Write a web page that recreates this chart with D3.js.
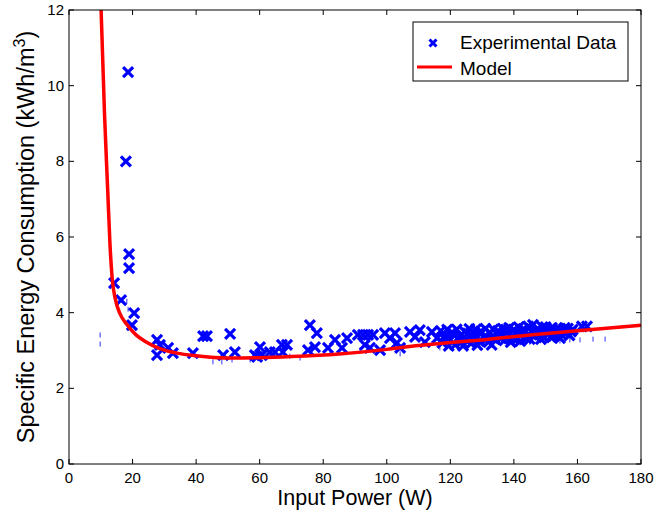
<!doctype html>
<html lang="en">
<head>
    <meta charset="UTF-8">
    <title>Specific Energy Consumption vs Input Power</title>
    <script src="https://d3js.org/d3.v7.min.js"></script>
    <style>
        body { margin: 0; background: #fff; }
        svg { display: block; font-family: "Liberation Sans", Arial, Helvetica, sans-serif; }
    </style>
</head>
<body>
<svg width="655" height="517"></svg>
<script>
    const expData = [
        [18.6, 10.36], [17.9, 8.0], [18.9, 5.55], [18.9, 5.18], [14.2, 4.78], [16.4, 4.33],
        [20.5, 3.99], [19.8, 3.67], [27.7, 3.28], [27.7, 2.88], [28.6, 3.15], [31.2, 3.07],
        [32.7, 2.93], [39.0, 2.93], [42.2, 3.38], [43.4, 3.38], [48.5, 2.88], [50.7, 3.44],
        [52.2, 2.96], [58.5, 2.88], [60.1, 3.09], [60.7, 2.88], [59.2, 2.83], [63.2, 2.96],
        [64.8, 2.96], [67.0, 3.15], [68.6, 3.15], [67.3, 2.96], [75.8, 3.67], [78.0, 3.46],
        [75.2, 3.01], [77.4, 3.09], [83.7, 3.28], [81.5, 3.07], [87.5, 3.33], [85.9, 3.07],
        [90.9, 3.41], [92.5, 3.41], [94.1, 3.41], [95.7, 3.41], [93.1, 3.15], [94.7, 3.07],
        [97.9, 3.01], [99.4, 3.46], [101.0, 3.33], [102.6, 3.46], [103.2, 3.20], [104.2, 3.07],
        [107.3, 3.49], [108.9, 3.36], [110.4, 3.54], [112.0, 3.22], [114.2, 3.49], [115.8, 3.33],
        [117, 3.52], [117.5, 3.20], [118.5, 3.40], [119, 3.55], [120, 3.28], [120.5, 3.48],
        [121.5, 3.15], [122, 3.56], [123, 3.38], [123.5, 3.22], [124.5, 3.50], [125, 3.30],
        [126, 3.57], [126.5, 3.18], [127.5, 3.44], [128, 3.56], [129, 3.25], [129.5, 3.50],
        [130.5, 3.35], [131, 3.58], [132, 3.22], [132.5, 3.47], [133.5, 3.56], [134, 3.30],
        [135, 3.52], [135.5, 3.40], [136.5, 3.58], [137, 3.27], [138, 3.48], [138.5, 3.60],
        [139.5, 3.35], [140, 3.55], [141, 3.30], [141.5, 3.62], [142.5, 3.45], [143, 3.57],
        [144, 3.33], [144.5, 3.64], [145.5, 3.50], [146, 3.68], [146.5, 3.38], [147.5, 3.58],
        [148, 3.42], [149, 3.62], [149.5, 3.35], [150.5, 3.55], [151, 3.45], [152, 3.60],
        [152.5, 3.38], [153.5, 3.52], [154, 3.58], [155, 3.42], [155.5, 3.55], [156.5, 3.48],
        [157, 3.58], [158, 3.50], [161.4, 3.64], [163.0, 3.64],
        [118, 3.33], [119.5, 3.12], [121, 3.42], [122.5, 3.30], [124, 3.12], [125.5, 3.45],
        [127, 3.30], [128.5, 3.14], [130, 3.48], [131.5, 3.30], [133, 3.15], [134.5, 3.45],
        [136, 3.32], [137.5, 3.55], [139, 3.22], [140.5, 3.45], [142, 3.25], [143.5, 3.50],
        [145, 3.30], [147, 3.50], [148.5, 3.30], [150, 3.62], [151.5, 3.36], [153, 3.45],
        [154.5, 3.33], [156, 3.60], [157.5, 3.40], [158.5, 3.55]
    ];

    // faint low-level readings drawn as small dashes
    const dashData = [
        [9.8, 3.41], [9.8, 3.17], [18.2, 4.30], [18.6, 4.09], [45.3, 2.70], [48.1, 2.70],
        [51.3, 2.75], [57.0, 2.75], [61.7, 2.80], [69.5, 2.85], [72.7, 2.80], [82.1, 2.96],
        [91.6, 3.01], [104.2, 2.91], [116.7, 3.07], [129.3, 3.09], [141.9, 3.20], [145.0, 3.22],
        [149.8, 3.22], [154.5, 3.25], [157.6, 3.28], [160.8, 3.28], [164.9, 3.30], [168.7, 3.30]
    ];

    // model curve
    const modelData = [
        [10.1, 12], [11.2, 9.2], [12.2, 7.2], [12.9, 5.8], [13.6, 4.9], [14.6, 4.35],
        [16, 3.98], [18.1, 3.70], [21, 3.42], [24, 3.24], [28.6, 3.05], [34, 2.93],
        [40, 2.86], [50, 2.80], [60, 2.81], [70, 2.84], [85, 2.91], [100, 3.03],
        [110, 3.13], [120, 3.21], [130, 3.28], [145, 3.41], [160, 3.52], [180, 3.67]
    ];

    const xTicks = [0, 20, 40, 60, 80, 100, 120, 140, 160, 180];
    const yTicks = [0, 2, 4, 6, 8, 10, 12];

    const svg = d3.select("svg");
    const x = d3.scaleLinear().domain([0, 180]).range([69, 641]);
    const y = d3.scaleLinear().domain([0, 12]).range([464, 10]);

    svg.append("clipPath").attr("id", "plot")
        .append("rect")
        .attr("x", x(0)).attr("y", y(12))
        .attr("width", x(180) - x(0)).attr("height", y(0) - y(12));

    const plot = svg.append("g").attr("clip-path", "url(#plot)");

    // small dashes
    plot.append("g")
        .selectAll("line")
        .data(dashData)
        .enter()
        .append("line")
        .attr("x1", d => x(d[0])).attr("x2", d => x(d[0]))
        .attr("y1", d => y(d[1]) - 2.5).attr("y2", d => y(d[1]) + 2.5)
        .attr("stroke", "#3030ff")
        .attr("stroke-width", 1);

    // crosses
    const cross = (cx, cy, r) => `M${cx - r},${cy - r}L${cx + r},${cy + r}M${cx - r},${cy + r}L${cx + r},${cy - r}`;
    plot.append("g")
        .selectAll("path")
        .data(expData)
        .enter()
        .append("path")
        .attr("d", d => cross(x(d[0]), y(d[1]), 5))
        .attr("stroke", "#0000ff")
        .attr("stroke-width", 3.2)
        .attr("fill", "none");

    // model line
    const line = d3.line()
        .x(d => x(d[0]))
        .y(d => y(d[1]))
        .curve(d3.curveMonotoneX);
    plot.append("path")
        .datum(modelData)
        .attr("d", line)
        .attr("fill", "none")
        .attr("stroke", "#ff0000")
        .attr("stroke-width", 3.5);

    // frame and ticks
    const axes = svg.append("g").attr("stroke", "#000").attr("stroke-width", 1);
    axes.append("rect")
        .attr("x", x(0)).attr("y", y(12))
        .attr("width", x(180) - x(0)).attr("height", y(0) - y(12))
        .attr("fill", "none");

    const tickLen = 5;
    xTicks.forEach(t => {
        axes.append("line").attr("x1", x(t)).attr("x2", x(t)).attr("y1", y(0)).attr("y2", y(0) - tickLen);
        axes.append("line").attr("x1", x(t)).attr("x2", x(t)).attr("y1", y(12)).attr("y2", y(12) + tickLen);
    });
    yTicks.forEach(t => {
        axes.append("line").attr("y1", y(t)).attr("y2", y(t)).attr("x1", x(0)).attr("x2", x(0) + tickLen);
        axes.append("line").attr("y1", y(t)).attr("y2", y(t)).attr("x1", x(180)).attr("x2", x(180) - tickLen);
    });

    svg.append("g")
        .selectAll("text")
        .data(xTicks)
        .enter()
        .append("text")
        .attr("x", d => x(d))
        .attr("y", 483)
        .attr("text-anchor", "middle")
        .attr("font-size", 15)
        .text(d => d);

    svg.append("g")
        .selectAll("text")
        .data(yTicks)
        .enter()
        .append("text")
        .attr("x", 64)
        .attr("y", d => y(d) + 5)
        .attr("text-anchor", "end")
        .attr("font-size", 15)
        .text(d => d);

    svg.append("text")
        .attr("x", (x(0) + x(180)) / 2)
        .attr("y", 505)
        .attr("text-anchor", "middle")
        .attr("font-size", 21.5)
        .text("Input Power (W)");

    const yl = svg.append("text")
        .attr("transform", `translate(34,${(y(0) + y(12)) / 2}) rotate(-90)`)
        .attr("text-anchor", "middle")
        .attr("font-size", 23.5);
    yl.append("tspan").text("Specific Energy Consumption (kWh/m");
    yl.append("tspan").attr("dy", -9).attr("font-size", 16).text("3");
    yl.append("tspan").attr("dy", 9).text(")");

    // legend
    const lg = svg.append("g");
    lg.append("rect")
        .attr("x", 413).attr("y", 22).attr("width", 215).attr("height", 59)
        .attr("fill", "#fff").attr("stroke", "#000").attr("stroke-width", 1);
    lg.append("path")
        .attr("d", cross(433, 43, 3.5))
        .attr("stroke", "#0000ff").attr("stroke-width", 3).attr("fill", "none");
    lg.append("text").attr("x", 460).attr("y", 49).attr("font-size", 19).text("Experimental Data");
    lg.append("line")
        .attr("x1", 417).attr("x2", 452).attr("y1", 67).attr("y2", 67)
        .attr("stroke", "#ff0000").attr("stroke-width", 3);
    lg.append("text").attr("x", 460).attr("y", 75).attr("font-size", 19).text("Model");
</script>
</body>
</html>
